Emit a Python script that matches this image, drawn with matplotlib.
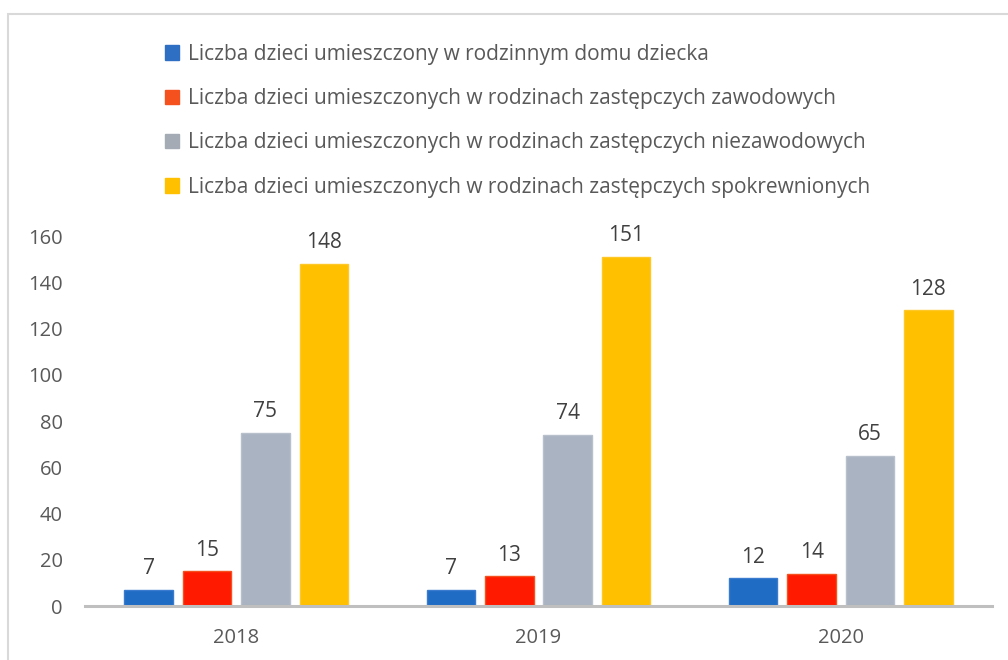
import matplotlib.pyplot as plt
import matplotlib.patches as mpatches
import numpy as np

plt.rcParams['font.family'] = ['Open Sans', 'DejaVu Sans']

years = ['2018', '2019', '2020']
labels = [
    'Liczba dzieci umieszczony w rodzinnym domu dziecka',
    'Liczba dzieci umieszczonych w rodzinach zastępczych zawodowych',
    'Liczba dzieci umieszczonych w rodzinach zastępczych niezawodowych',
    'Liczba dzieci umieszczonych w rodzinach zastępczych spokrewnionych',
]
dom_dziecka = [7, 7, 12]
zawodowe = [15, 13, 14]
niezawodowe = [75, 74, 65]
spokrewnione = [148, 151, 128]

series = [dom_dziecka, zawodowe, niezawodowe, spokrewnione]
colors = ['#1F6CC4', '#FF1A00', '#A9B3C1', '#FFC000']
edges = ['#3A7BD0', '#F4511E', '#B8C0CC', '#FFC829']

fig = plt.figure(figsize=(10.08, 6.6), dpi=100)
ax = fig.add_axes([85 / 1008, 1 - 606 / 660, 907 / 1008, 370 / 660])

x = np.arange(len(years))
w = 0.16
step = 0.193
for i, vals in enumerate(series):
    pos = x + (i - 1.5) * step
    ax.bar(pos, vals, w, color=colors[i], edgecolor=edges[i], linewidth=1, label=labels[i])
    for p, v in zip(pos, vals):
        ax.text(p, v + 4.5, str(v), ha='center', va='bottom', fontsize=15, color='#404040')

ax.set_xlim(-0.5, 2.5)
ax.set_ylim(0, 160)
ax.set_yticks(range(0, 161, 20))
ax.set_xticks(x)
ax.set_xticklabels(years)
ax.tick_params(length=0, labelsize=14.5, colors='#595959')
ax.tick_params(axis='y', pad=16)
ax.tick_params(axis='x', pad=16)
for s in ['top', 'right', 'left']:
    ax.spines[s].set_visible(False)
ax.spines['bottom'].set_color('#BFBFBF')
ax.spines['bottom'].set_linewidth(2.2)

handles = [mpatches.Patch(color=c) for c in ['#2E6FC4', '#F4511E', '#A5ABB5', '#FFC000']]
fig.legend(handles, labels, loc='upper left', bbox_to_anchor=(146 / 1008, 1 - 25 / 660),
           frameon=False, fontsize=15, labelcolor='#595959', handlelength=0.7,
           handleheight=0.7, handletextpad=0.4, labelspacing=1.12)

fig.add_artist(mpatches.Rectangle((8 / 1008, -0.1), 1.2, 1.1 - 14 / 660, transform=fig.transFigure,
                                  fill=False, edgecolor='#D9D9D9', linewidth=1.5))

fig.savefig('out.png', dpi=100)
